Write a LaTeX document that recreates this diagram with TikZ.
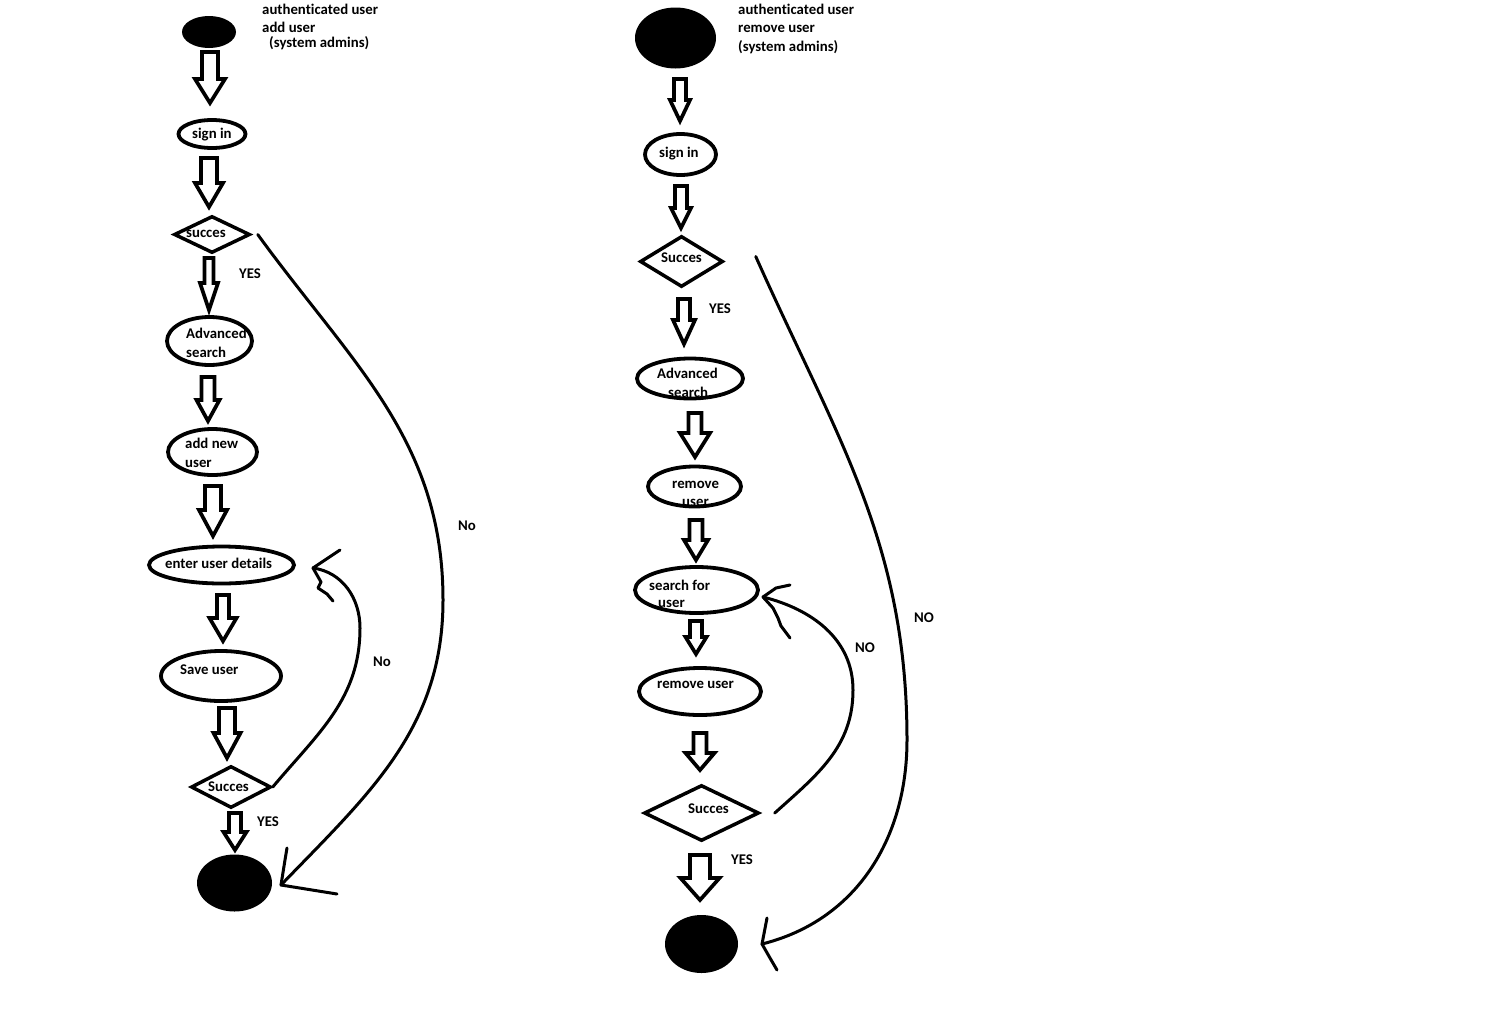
\documentclass[tikz,border=0pt]{standalone}
\usepackage{fontspec}
\setmainfont{Carlito}[Ligatures={NoCommon}]
\usetikzlibrary{shapes.geometric}
\tikzset{
  act/.style={ellipse, draw, line width=3.8pt, inner sep=0pt},
  dec/.style={diamond, draw, line width=3.5pt, inner sep=0pt, line join=miter},
  term/.style={ellipse, fill=black, inner sep=0pt},
  txt/.style={anchor=west, inner sep=0pt, text height=12pt, text depth=0pt,
              font=\bfseries\fontsize{14.8}{17}\selectfont},
  blockarrow/.style={draw, line width=3.7pt, line join=miter, fill=white},
  flow/.style={line width=3pt, line cap=round, line join=round},
}
% block arrow: x, ytop, ybottom, shaft half, head half, neck y (page pixels)
\newcommand\blk[6]{%
  \draw[blockarrow] (#1-#4,-#2) -- (#1+#4,-#2) -- (#1+#4,-#6) -- (#1+#5,-#6)
     -- (#1,-#3) -- (#1-#5,-#6) -- (#1-#4,-#6) -- cycle;}
\begin{document}
\begin{tikzpicture}[x=1pt,y=1pt]
\useasboundingbox (0,0) rectangle (1488,-1020);
\fill[white] (0,0) rectangle (1488,-1020);

% ---------------- left diagram ----------------
\node[term, minimum width=54, minimum height=32] (ls) at (209,-32) {};
\node[txt] (lt1) at (262,-8.5) {authenticated user};
\node[txt] (lt2) at (262,-26.5) {add user};
\node[txt] (lt3) at (269,-41.5) {(system admins)};

\node[act, minimum width=67, minimum height=28] (lsign) at (212,-134) {};
\node[txt] (lsignt) at (192,-132.5) {sign in};

\node[dec, minimum width=76, minimum height=37] (ld1) at (212,-234.5) {};
\node[txt] (ld1t) at (186,-231.5) {succes};
\node[txt] (lyes1) at (239,-272.5) {YES};

\node[act, minimum width=85, minimum height=48] (ladv) at (209.5,-341) {};
\node[txt] (ladvt1) at (186,-332.5) {Advanced};
\node[txt] (ladvt2) at (186,-351) {search};

\node[act, minimum width=89, minimum height=46] (ladd) at (212.5,-452) {};
\node[txt] (laddt1) at (185,-442.5) {add new};
\node[txt] (laddt2) at (185,-461) {user};

\node[act, minimum width=145, minimum height=37] (lent) at (221.5,-565) {};
\node[txt] (lentt) at (165,-562.5) {enter user details};

\node[act, minimum width=120, minimum height=50] (lsave) at (221,-676) {};
\node[txt] (lsavet) at (180,-668.5) {Save user};

\node[dec, minimum width=80, minimum height=42] (ld2) at (231,-787) {};
\node[txt] (ld2t) at (208,-785.5) {Succes};
\node[txt] (lyes2) at (257,-820.5) {YES};

\node[term, minimum width=75, minimum height=57] (le) at (234.5,-883) {};

\node[txt] (lno1) at (373,-660.5) {No};
\node[txt] (lno2) at (458,-524.5) {No};

\blk{210}{52}{103}{8}{15}{79}
\blk{209}{158}{207}{8}{14}{183}
\blk{209}{258}{310}{4.5}{9}{283}
\blk{208}{377}{421}{6.5}{11.5}{400}
\blk{213}{486}{536}{8}{14}{510}
\blk{223}{595}{641}{6}{13.5}{618}
\blk{227}{708}{758}{8}{13.5}{733}
\blk{235}{813}{850}{6}{11.5}{832}

% No loop (left, small)
\coordinate (lloopTip) at (313,-568);
\draw[flow] (ld2.east) to[out=50,in=-90] (360,-628) to[out=90,in=-8] (lloopTip);
\draw[flow] (lloopTip) -- (340,-550);
\draw[flow] (lloopTip) -- (321,-582) -- (318,-588) -- (327,-594) -- (333,-601);

% No loop (left, big)
\coordinate (lbigTip) at (281,-885);
\draw[flow] ([xshift=6pt]ld1.east) to[out=-54,in=90] (443,-600) to[out=-90,in=46] (lbigTip);
\draw[flow] (lbigTip) -- (285,-860) -- (287,-848);
\draw[flow] (lbigTip) -- (337,-894);

% ---------------- right diagram ----------------
\node[term, minimum width=81, minimum height=61] (rs) at (675.5,-38) {};
\node[txt] (rt1) at (738,-8.5) {authenticated user};
\node[txt] (rt2) at (738,-26.5) {remove user};
\node[txt] (rt3) at (738,-45) {(system admins)};

\node[act, minimum width=71, minimum height=41] (rsign) at (680.5,-154.5) {};
\node[txt] (rsignt) at (659,-151.5) {sign in};

\node[dec, minimum width=83, minimum height=51] (rd1) at (681.5,-261.5) {};
\node[txt] (rd1t) at (661,-256.5) {Succes};
\node[txt] (ryes1) at (709,-307.5) {YES};

\node[act, minimum width=106, minimum height=40] (radv) at (690,-378.5) {};
\node[txt] (radvt1) at (657,-372.5) {Advanced};
\node[txt] (radvt2) at (668,-391) {search};

\node[act, minimum width=93, minimum height=40] (rrem1) at (694.5,-486.5) {};
\node[txt] (rrem1t1) at (672,-482) {remove};
\node[txt] (rrem1t2) at (682,-500) {user};

\node[act, minimum width=123, minimum height=46] (rsearch) at (696.5,-590) {};
\node[txt] (rsearcht1) at (649,-584) {search for};
\node[txt] (rsearcht2) at (658,-601.5) {user};

\node[act, minimum width=122, minimum height=47] (rrem2) at (700,-691.5) {};
\node[txt] (rrem2t) at (657,-682) {remove user};

\node[dec, minimum width=115, minimum height=56] (rd2) at (701.5,-813) {};
\node[txt] (rd2t) at (688,-807.5) {Succes};
\node[txt] (ryes2) at (731,-858.5) {YES};

\node[term, minimum width=73, minimum height=58] (re) at (701.5,-944) {};

\node[txt] (rno1) at (855,-646.5) {NO};
\node[txt] (rno2) at (914,-616.5) {NO};

\blk{680}{79}{121}{6}{10}{100}
\blk{681}{186}{228}{6}{10}{208}
\blk{684}{299}{344}{6}{11}{320}
\blk{695}{413}{457}{6.5}{15}{433}
\blk{696}{520}{560}{6.5}{12}{540}
\blk{696}{621}{654}{6}{10.5}{637}
\blk{700}{733}{770}{6.5}{14.5}{753}
\blk{700}{855}{900}{10}{19.5}{878}

% NO loop (right, small)
\coordinate (rloopTip) at (763,-597);
\draw[flow] ([xshift=14pt]rd2.east) to[out=42,in=-90] (853,-690) to[out=90,in=-14] (rloopTip);
\draw[flow] (rloopTip) -- (776,-588) -- (790,-585);
\draw[flow] (rloopTip) -- (773,-608) -- (778,-618) -- (781,-626) -- (790,-638);

% NO loop (right, big)
\coordinate (rbigTip) at (762,-944);
\draw[flow] ([xshift=31pt,yshift=5pt]rd1.east) to[out=-66,in=90] (907,-740) to[out=-90,in=14] (rbigTip);
\draw[flow] (rbigTip) -- (767,-918);
\draw[flow] (rbigTip) -- (770,-958) -- (777,-970);
\end{tikzpicture}
\end{document}
